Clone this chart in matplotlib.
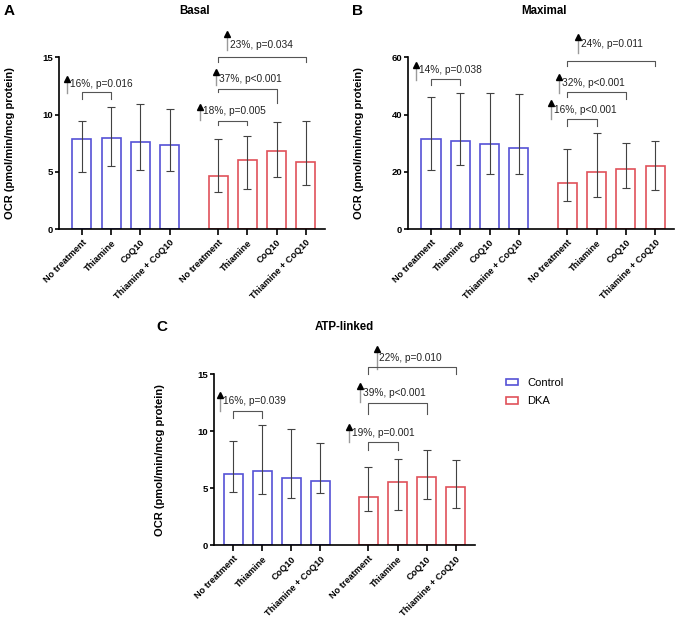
import matplotlib
matplotlib.use("Agg")
import matplotlib.pyplot as plt
from matplotlib.patches import Patch

plt.rcParams['font.family'] = ['Liberation Sans', 'DejaVu Sans']

# treatments, same for both groups
treatments = ["No treatment", "Thiamine", "CoQ10", "Thiamine + CoQ10"]
groups = ["Control", "DKA"]

# bar heights, lower and upper whisker ends
basal_control = [7.85, 7.93, 7.64, 7.35]
basal_control_lo = [4.96, 5.54, 5.19, 5.10]
basal_control_hi = [9.48, 10.67, 10.90, 10.50]
basal_dka = [4.60, 6.07, 6.86, 5.83]
basal_dka_lo = [3.27, 3.47, 4.58, 3.85]
basal_dka_hi = [7.87, 8.17, 9.39, 9.48]

maximal_control = [31.3, 30.6, 29.7, 28.4]
maximal_control_lo = [20.6, 22.5, 19.4, 19.3]
maximal_control_hi = [46.0, 47.7, 47.4, 47.2]
maximal_dka = [16.2, 20.1, 21.0, 22.1]
maximal_dka_lo = [9.7, 11.2, 14.3, 13.5]
maximal_dka_hi = [28.1, 33.7, 30.2, 30.6]

atp_control = [6.25, 6.55, 5.93, 5.64]
atp_control_lo = [4.70, 4.47, 4.18, 4.62]
atp_control_hi = [9.18, 10.58, 10.17, 9.00]
atp_dka = [4.24, 5.55, 5.96, 5.14]
atp_dka_lo = [2.98, 3.10, 4.09, 3.27]
atp_dka_hi = [6.87, 7.60, 8.39, 7.48]

# comparisons: (group, bar a, bar b, label)
basal_stats = [(0, 0, 1, "16%, p=0.016"), (1, 0, 1, "18%, p=0.005"),
               (1, 0, 2, "37%, p<0.001"), (1, 0, 3, "23%, p=0.034")]
maximal_stats = [(0, 0, 1, "14%, p=0.038"), (1, 0, 1, "16%, p<0.001"),
                 (1, 0, 2, "32%, p<0.001"), (1, 0, 3, "24%, p=0.011")]
atp_stats = [(0, 0, 1, "16%, p=0.039"), (1, 0, 1, "19%, p=0.001"),
             (1, 0, 2, "39%, p<0.001"), (1, 0, 3, "22%, p=0.010")]

BLUE = "#5552d6"
RED = "#e0525a"
ERR = "#424242"
GREY = "#555555"
GAP = 4.65


def positions(g):
    return [i + g * GAP for i in range(len(treatments))]


def draw_panel(ax, series, stats, layout, ymax, yticks, xlim):
    for g, (vals, lo, hi) in enumerate(series):
        xs = positions(g)
        col = BLUE if g == 0 else RED
        ax.bar(xs, vals, width=0.65, facecolor="white", edgecolor=col, linewidth=1.2, zorder=2)
        yerr = [[v - l for v, l in zip(vals, lo)], [h - v for v, h in zip(vals, hi)]]
        ax.errorbar(xs, vals, yerr=yerr, fmt="none", ecolor=ERR, elinewidth=0.8,
                    capsize=3.2, capthick=0.8, zorder=3)

    for (g, a, b, label), (yb, la, lb, ax_x, y0, y1, yt) in zip(stats, layout):
        xa = positions(g)[a]
        xb = positions(g)[b]
        ax.plot([xa, xa, xb, xb], [yb - la, yb, yb, yb - lb], color=GREY, lw=0.8,
                clip_on=False, zorder=4)
        ax.plot([xa + ax_x, xa + ax_x], [y0, y1], color="#9a9a9a", lw=1.0, clip_on=False)
        ax.plot(xa + ax_x, y1, marker="^", color="black", ms=3.8, clip_on=False)
        ax.text(xa + ax_x + 0.1, yt, label, fontsize=7.3, va="center", ha="left", color="#222222")

    ax.set_ylim(0, ymax)
    ax.set_yticks(yticks)
    ax.set_xlim(*xlim)
    ax.set_xticks(positions(0) + positions(1))
    ax.set_xticklabels(treatments * 2, rotation=45, ha="right", rotation_mode="anchor",
                       fontsize=6.6, fontweight="bold")
    for t in ax.get_yticklabels():
        t.set_fontweight("bold")
        t.set_fontsize(6.8)
    ax.spines["top"].set_visible(False)
    ax.spines["right"].set_visible(False)
    ax.spines["left"].set_linewidth(1.2)
    ax.spines["bottom"].set_linewidth(1.2)
    ax.tick_params(axis="x", length=4, width=1.2, pad=2.5)
    ax.tick_params(axis="y", length=3, width=1.2, pad=1.5)


fig = plt.figure(figsize=(6.8, 6.19), dpi=100)

ax_a = fig.add_axes([0.0868, 0.630, 0.391, 0.2774])
ax_b = fig.add_axes([0.6004, 0.630, 0.3907, 0.2774])
ax_c = fig.add_axes([0.3151, 0.119, 0.3834, 0.2763])

# (bracket y, left leg, right leg, arrow dx, arrow y0, arrow y1, text y)
draw_panel(ax_a,
           [(basal_control, basal_control_lo, basal_control_hi),
            (basal_dka, basal_dka_lo, basal_dka_hi)],
           basal_stats,
           [(11.93, 0.6, 0.6, -0.52, 11.9, 13.1, 12.7),
            (9.45, 0.35, 0.35, -0.61, 9.5, 10.7, 10.3),
            (12.27, 0.31, 1.27, -0.07, 12.6, 13.7, 13.1),
            (15.0, 0.4, 0.4, 0.30, 15.6, 17.0, 16.1)],
           15, [0, 5, 10, 15], (-0.78, 8.3))

draw_panel(ax_b,
           [(maximal_control, maximal_control_lo, maximal_control_hi),
            (maximal_dka, maximal_dka_lo, maximal_dka_hi)],
           maximal_stats,
           [(52.4, 1.9, 1.9, -0.50, 52.0, 57.3, 55.5),
            (38.5, 2.5, 2.5, -0.54, 38.5, 44.0, 41.6),
            (48.0, 2.0, 2.6, -0.27, 47.6, 53.0, 51.2),
            (58.7, 1.7, 1.7, 0.37, 61.4, 67.2, 64.6)],
           60, [0, 20, 40, 60], (-0.775, 8.29))

draw_panel(ax_c,
           [(atp_control, atp_control_lo, atp_control_hi),
            (atp_dka, atp_dka_lo, atp_dka_hi)],
           atp_stats,
           [(11.8, 0.6, 0.6, -0.46, 11.8, 13.2, 12.66),
            (9.03, 0.67, 0.67, -0.67, 9.06, 10.4, 9.85),
            (12.5, 1.0, 1.0, -0.30, 12.54, 13.95, 13.33),
            (15.6, 0.6, 0.6, 0.28, 15.5, 17.2, 16.46)],
           15, [0, 5, 10, 15], (-0.655, 8.316))

ylabel = "OCR (pmol/min/mcg protein)"
fig.text(10 / 680, 1 - 143 / 619, ylabel, rotation=90, va="center", ha="center",
         fontsize=8, fontweight="bold")
fig.text(359 / 680, 1 - 143 / 619, ylabel, rotation=90, va="center", ha="center",
         fontsize=8, fontweight="bold")
fig.text(160 / 680, 1 - 460 / 619, ylabel, rotation=90, va="center", ha="center",
         fontsize=8, fontweight="bold")

fig.text(195 / 680, 1 - 11 / 619, "Basal", fontsize=8.3, fontweight="bold", ha="center", va="center")
fig.text(544 / 680, 1 - 11 / 619, "Maximal", fontsize=8.3, fontweight="bold", ha="center", va="center")
fig.text(344 / 680, 1 - 327 / 619, "ATP-linked", fontsize=8.3, fontweight="bold", ha="center", va="center")

fig.text(4 / 680, 1 - 11 / 619, "A", fontsize=11, fontweight="bold", ha="left", va="center")
fig.text(352 / 680, 1 - 11 / 619, "B", fontsize=11, fontweight="bold", ha="left", va="center")
fig.text(156 / 680, 1 - 327 / 619, "C", fontsize=11, fontweight="bold", ha="left", va="center")

handles = [Patch(facecolor="white", edgecolor=BLUE, linewidth=1.2, label=groups[0]),
           Patch(facecolor="white", edgecolor=RED, linewidth=1.2, label=groups[1])]
fig.legend(handles=handles, loc="upper left", bbox_to_anchor=(506 / 680, 1 - 378 / 619),
           frameon=False, fontsize=8, handlelength=1.1, handleheight=0.55,
           handletextpad=0.8, labelspacing=0.75, borderpad=0, borderaxespad=0)

fig.savefig("out.png", dpi=100)
